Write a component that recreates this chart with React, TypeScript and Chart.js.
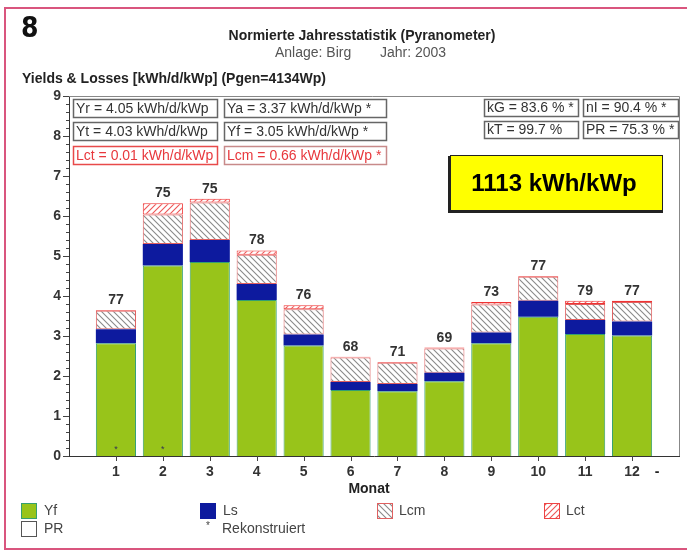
import React, { useEffect, useRef } from "react";
import { Chart, registerables } from "chart.js";
Chart.register(...registerables);

const FONT = '"Liberation Sans", Arial, Helvetica, sans-serif';

const months = [1, 2, 3, 4, 5, 6, 7, 8, 9, 10, 11, 12];
const yf = [2.82, 4.76, 4.85, 3.9, 2.76, 1.65, 1.62, 1.87, 2.82, 3.48, 3.05, 3.01];
const ls = [0.35, 0.54, 0.55, 0.4, 0.28, 0.2, 0.18, 0.21, 0.27, 0.4, 0.35, 0.35];
const lcm = [0.46, 0.74, 0.94, 0.73, 0.63, 0.61, 0.53, 0.61, 0.7, 0.6, 0.4, 0.49];
const lct = [0.02, 0.28, 0.09, 0.11, 0.1, 0.02, 0.02, 0.02, 0.06, 0.02, 0.08, 0.03];
const pr = [77, 75, 75, 78, 76, 68, 71, 69, 73, 77, 79, 77];
const reconstructed = [true, true, false, false, false, false, false, false, false, false, false, false];

const chartNo = "8";
const titleMain = "Normierte Jahresstatistik (Pyranometer)";
const titleSub1 = "Anlage: Birg";
const titleSub2 = "Jahr: 2003";
const yTitle = "Yields & Losses [kWh/d/kWp] (Pgen=4134Wp)";
const xTitle = "Monat";
const infoLeft = [
  ["Yr = 4.05 kWh/d/kWp", "Ya = 3.37 kWh/d/kWp *"],
  ["Yt = 4.03 kWh/d/kWp", "Yf = 3.05 kWh/d/kWp *"],
  ["Lct = 0.01 kWh/d/kWp", "Lcm = 0.66 kWh/d/kWp *"],
];
const infoRight = [
  ["kG = 83.6 % *", "nI = 90.4 % *"],
  ["kT = 99.7 %", "PR = 75.3 % *"],
];
const totalYield = "1113 kWh/kWp";

const GREEN = "#98c41a";
const GREEN_BORDER = "#35a070";
const BLUE = "#0d1a9e";
const RED = "#e8383d";

function makeHatch(ctx: CanvasRenderingContext2D, color: string, dir: number) {
  const s = 6;
  const c = document.createElement("canvas");
  c.width = s;
  c.height = s;
  const g = c.getContext("2d")!;
  g.fillStyle = "#ffffff";
  g.fillRect(0, 0, s, s);
  g.strokeStyle = color;
  g.lineWidth = 1.1;
  g.beginPath();
  if (dir === 1) {
    g.moveTo(-1, -1); g.lineTo(s + 1, s + 1);
    g.moveTo(-1, s - 1); g.lineTo(1, s + 1);
    g.moveTo(s - 1, -1); g.lineTo(s + 1, 1);
  } else {
    g.moveTo(-1, s + 1); g.lineTo(s + 1, -1);
    g.moveTo(-1, 1); g.lineTo(1, -1);
    g.moveTo(s - 1, s + 1); g.lineTo(s + 1, s - 1);
  }
  g.stroke();
  return ctx.createPattern(c, "repeat")!;
}

export default function App() {
  const ref = useRef<HTMLCanvasElement | null>(null);
  useEffect(() => {
    document.body.style.margin = "0";
    const canvas = ref.current!;
    const ctx = canvas.getContext("2d")!;
    const pLcm = makeHatch(ctx, "#8a8a8a", 1);
    const pLct = makeHatch(ctx, "#ee5555", -1);

    const overlay = {
      id: "overlay",
      afterDraw(chart: any) {
        const c: CanvasRenderingContext2D = chart.ctx;
        const a = chart.chartArea;
        const ys = chart.scales.y;
        const xs = chart.scales.x;
        c.save();
        // pink frame
        c.strokeStyle = "#d9557e";
        c.lineWidth = 2;
        c.beginPath();
        c.moveTo(687, 8); c.lineTo(5, 8); c.lineTo(5, 549); c.lineTo(687, 549);
        c.stroke();

        // plot frame top/right
        c.strokeStyle = "#888";
        c.lineWidth = 1;
        c.beginPath();
        c.moveTo(a.left - 3, a.top + 0.5); c.lineTo(a.right + 0.5, a.top + 0.5);
        c.lineTo(a.right + 0.5, a.bottom);
        c.stroke();

        // y ticks
        c.strokeStyle = "#444";
        c.beginPath();
        for (let v = 0; v <= 45; v++) {
          const yy = Math.round(ys.getPixelForValue(v / 5)) + 0.5;
          const len = v % 5 === 0 ? 6 : 3;
          c.moveTo(a.left - len, yy); c.lineTo(a.left, yy);
        }
        // x ticks
        months.forEach((m) => {
          const xx = Math.round(xs.getPixelForValue(m)) + 0.5;
          c.moveTo(xx, a.bottom); c.lineTo(xx, a.bottom + 5);
        });
        c.stroke();

        // chart number
        c.fillStyle = "#111";
        c.textBaseline = "alphabetic";
        c.textAlign = "left";
        c.font = `bold 28px "Liberation Sans Narrow", "DejaVu Sans Condensed", ${FONT}`;
        c.fillText(chartNo, 21, 37);

        // titles
        c.textAlign = "center";
        c.fillStyle = "#222";
        c.font = `bold 14px ${FONT}`;
        c.fillText(titleMain, 362, 40);
        c.fillStyle = "#555";
        c.font = `14px ${FONT}`;
        c.textAlign = "left";
        c.fillText(titleSub1, 275, 57);
        c.fillText(titleSub2, 380, 57);

        c.fillStyle = "#222";
        c.font = `bold 14px ${FONT}`;
        c.fillText(yTitle, 22, 83);

        // x title
        c.textAlign = "center";
        c.fillText(xTitle, 369, 493);
        // stray dash
        c.fillText("-", 657, 476);

        // info boxes
        c.font = `14px ${FONT}`;
        c.textAlign = "left";
        c.textBaseline = "middle";
        const lx = [[73, 144], [224, 162]];
        const ly = [99, 122, 146];
        infoLeft.forEach((row, r) => {
          row.forEach((txt, k) => {
            const [x0, w] = lx[k];
            const y0 = ly[r];
            const red = r === 2;
            c.fillStyle = "#fff";
            c.fillRect(x0, y0, w, 18);
            c.strokeStyle = red ? (k === 0 ? "#e84a4a" : "#c88a8a") : "#666";
            c.lineWidth = 1.5;
            c.strokeRect(x0 + 0.5, y0 + 0.5, w, 18);
            c.fillStyle = red ? RED : "#333";
            c.fillText(txt, x0 + 3, y0 + 10);
          });
        });
        const rx = [[484, 94], [583, 95]];
        const ry = [99, 121];
        infoRight.forEach((row, r) => {
          row.forEach((txt, k) => {
            const [x0, w] = rx[k];
            const y0 = ry[r];
            c.fillStyle = "#fff";
            c.fillRect(x0, y0, w, 17);
            c.strokeStyle = "#666";
            c.lineWidth = 1.5;
            c.strokeRect(x0 + 0.5, y0 + 0.5, w, 17);
            c.fillStyle = "#333";
            c.fillText(txt, x0 + 3, y0 + 9.5);
          });
        });

        // yellow box
        c.fillStyle = "#222";
        c.fillRect(448, 156, 215, 57);
        c.fillStyle = "#ffff00";
        c.fillRect(451, 155, 212, 55);
        c.strokeStyle = "#222";
        c.lineWidth = 1;
        c.strokeRect(450.5, 155.5, 212, 55);
        c.fillStyle = "#000";
        c.textAlign = "center";
        c.font = `bold 24px ${FONT}`;
        c.fillText(totalYield, 554, 184);

        // PR labels
        const meta = chart.getDatasetMeta(3);
        c.font = `bold 14px ${FONT}`;
        c.fillStyle = "#333";
        c.textBaseline = "alphabetic";
        meta.data.forEach((el: any, i: number) => {
          c.fillText(String(pr[i]), el.x, el.y - 6);
        });
        // reconstructed marks
        c.font = `9px ${FONT}`;
        c.fillStyle = "#335";
        const m0 = chart.getDatasetMeta(0);
        m0.data.forEach((el: any, i: number) => {
          if (reconstructed[i]) c.fillText("*", el.x, a.bottom - 4);
        });

        // legend
        c.textAlign = "left";
        c.textBaseline = "middle";
        c.font = `14px ${FONT}`;
        const sw = (x: number, y: number, fill: any, stroke: string) => {
          c.fillStyle = fill;
          c.fillRect(x, y, 15, 15);
          c.strokeStyle = stroke;
          c.lineWidth = 1;
          c.strokeRect(x + 0.5, y + 0.5, 15, 15);
        };
        sw(21, 503, GREEN, GREEN_BORDER);
        sw(200, 503, BLUE, BLUE);
        sw(377, 503, pLcm, "#e06060");
        sw(544, 503, pLct, "#ee4444");
        sw(21, 521, "#fff", "#555");
        c.fillStyle = "#444";
        c.fillText("Yf", 44, 511);
        c.fillText("Ls", 223, 511);
        c.fillText("Lcm", 399, 511);
        c.fillText("Lct", 566, 511);
        c.fillText("PR", 44, 529);
        c.font = `10px ${FONT}`;
        c.fillText("*", 206, 526);
        c.font = `14px ${FONT}`;
        c.fillText("Rekonstruiert", 222, 529);
        c.restore();
      },
    };

    const mk = (arr: number[]) => months.map((m, i) => ({ x: m, y: arr[i] }));
    const chart = new Chart(canvas, {
      type: "bar",
      data: {
        datasets: [
          { label: "Yf", data: mk(yf), backgroundColor: GREEN, borderColor: GREEN_BORDER, borderWidth: 1, borderSkipped: "start" },
          { label: "Ls", data: mk(ls), backgroundColor: BLUE, borderWidth: 0 },
          { label: "Lcm", data: mk(lcm), backgroundColor: pLcm, borderColor: "#e06060", borderWidth: 1, borderSkipped: false },
          { label: "Lct", data: mk(lct), backgroundColor: pLct, borderColor: "#ee3333", borderWidth: 1, borderSkipped: false },
        ] as any,
      },
      options: {
        responsive: false,
        animation: false,
        devicePixelRatio: 1,
        layout: { padding: { left: 0, right: 8, top: 96, bottom: 0 } },
        plugins: { legend: { display: false }, tooltip: { enabled: false }, title: { display: false } },
        datasets: { bar: { barPercentage: 0.855, categoryPercentage: 1 } } as any,
        scales: {
          x: {
            type: "linear",
            min: 0,
            max: 13,
            stacked: true,
            offset: false,
            grid: { display: false, drawTicks: false },
            border: { display: true, color: "#333", width: 1 },
            ticks: {
              stepSize: 1,
              autoSkip: false,
              maxRotation: 0,
              padding: 8,
              color: "#333",
              font: { family: FONT, size: 14, weight: "bold" },
              callback: (v: any) => (v >= 1 && v <= 12 ? String(v) : ""),
            },
            afterFit: (s: any) => { s.height = 95; },
          },
          y: {
            min: 0,
            max: 9,
            stacked: true,
            grid: { display: false, drawTicks: false },
            border: { display: true, color: "#333", width: 1 },
            ticks: {
              stepSize: 1,
              padding: 8,
              color: "#333",
              font: { family: FONT, size: 14, weight: "bold" },
            },
            afterFit: (s: any) => { s.width = 69; },
          },
        } as any,
      },
      plugins: [overlay],
    });
    return () => chart.destroy();
  }, []);
  return <canvas ref={ref} width={687} height={551} style={{ display: "block" }} />;
}
